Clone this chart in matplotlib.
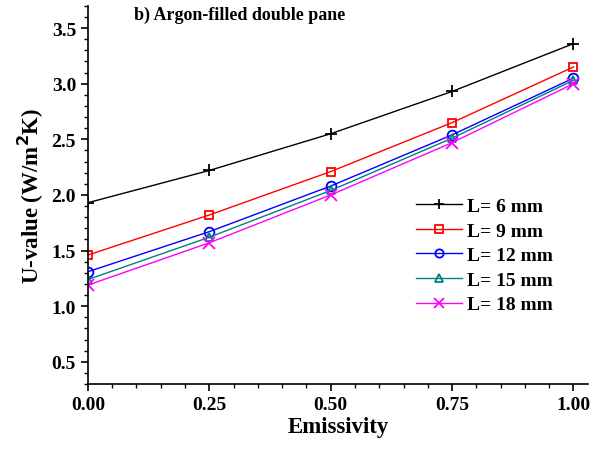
import numpy as np
import matplotlib.pyplot as plt
from matplotlib.ticker import MultipleLocator

plt.rcParams['font.family'] = ['Liberation Serif', 'DejaVu Serif']
plt.rcParams['font.weight'] = 'bold'

# emissivity vs U-value for gap widths
emissivity = [0.0, 0.25, 0.5, 0.75, 1.0]
u_6mm = [1.93, 2.22, 2.55, 2.93, 3.36]
u_9mm = [1.46, 1.82, 2.21, 2.65, 3.15]
u_12mm = [1.31, 1.67, 2.08, 2.54, 3.05]
u_15mm = [1.24, 1.62, 2.04, 2.51, 3.03]
u_18mm = [1.19, 1.57, 2.00, 2.47, 3.00]
labels = ['L= 6 mm', 'L= 9 mm', 'L= 12 mm', 'L= 15 mm', 'L= 18 mm']

fig = plt.figure(figsize=(5.94, 4.52), dpi=100)
ax = fig.add_axes([0.148, 0.148, 0.842, 0.837])

series = [u_6mm, u_9mm, u_12mm, u_15mm, u_18mm]
colors = ['black', 'red', 'blue', '#008080', 'magenta']
markers = ['+', 's', 'o', '^', 'x']
sizes = [9, 6, 7, 6, 9]
for y, c, m, s, lab in zip(series, colors, markers, sizes, labels):
    ax.plot(emissivity, y, color=c, marker=m, ms=s, mfc='none', mew=1.3,
            lw=1.0, label=lab)

ax.set_xlim(0, 1.03)
ax.set_ylim(0.3, 3.7)
ax.xaxis.set_major_locator(MultipleLocator(0.25))
ax.xaxis.set_minor_locator(MultipleLocator(0.05))
ax.yaxis.set_major_locator(MultipleLocator(0.5))
ax.yaxis.set_minor_locator(MultipleLocator(0.1))
ax.xaxis.set_major_formatter(plt.FormatStrFormatter('%.2f'))
ax.yaxis.set_major_formatter(plt.FormatStrFormatter('%.1f'))
ax.tick_params(which='major', length=5, width=1.2, labelsize=14)
ax.tick_params(which='minor', length=3, width=1.0)
ax.spines['top'].set_visible(False)
ax.spines['right'].set_visible(False)
ax.spines['left'].set_linewidth(1.2)
ax.spines['bottom'].set_linewidth(1.2)

ax.set_xlabel('Emissivity', fontsize=16.5, fontweight='bold', labelpad=2)
ax.set_ylabel('U-value (W/m$^2$K)', fontsize=16.5, fontweight='bold',
              labelpad=4)
ax.text(0.095, 3.62, 'b) Argon-filled double pane', fontsize=13,
        fontweight='bold', va='center')

leg = ax.legend(loc='upper left', bbox_to_anchor=(0.62, 0.54),
                frameon=False, fontsize=14, handlelength=2.4,
                labelspacing=0.36, handletextpad=0.25, markerscale=0.85)

fig.savefig('out.png', dpi=100)
